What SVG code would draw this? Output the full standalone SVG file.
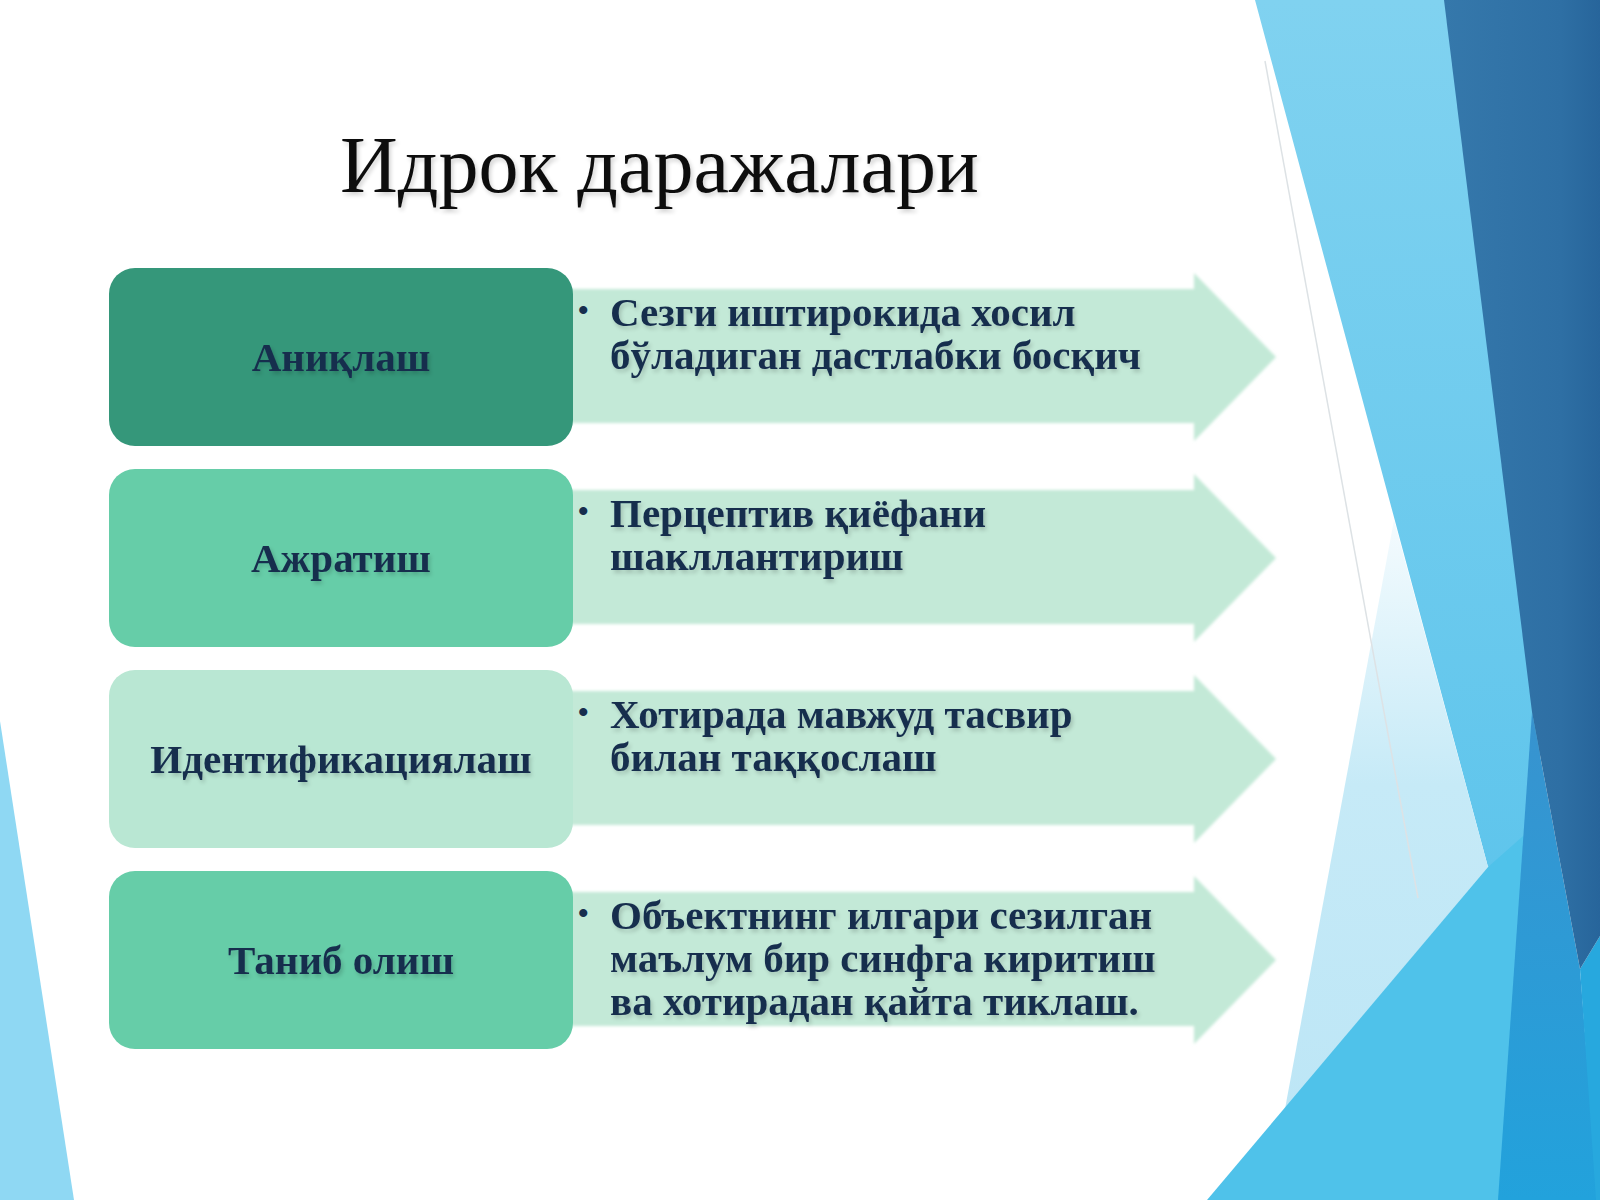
<svg xmlns="http://www.w3.org/2000/svg" width="1600" height="1200" viewBox="0 0 1600 1200">
<style>
.bg{stroke:none}
.box{stroke:none}
.dark{fill:#35977a}
.mid{fill:#66cda8}
.pale{fill:#b9e7d3}
.arrow{fill:#c3e9d7;filter:url(#soft)}
.label{font-family:"Liberation Serif","DejaVu Serif",serif;font-weight:bold;font-size:41px;fill:#172e4e;text-anchor:middle;filter:url(#tshadow)}
.desc{font-family:"Liberation Serif","DejaVu Serif",serif;font-weight:bold;font-size:41px;fill:#172e4e;filter:url(#tshadow)}
.bullet{font-family:"Liberation Serif","DejaVu Serif",serif;font-weight:bold;font-size:30px;fill:#172e4e}
.title{font-family:"Liberation Serif","DejaVu Serif",serif;font-size:80px;fill:#111111;filter:url(#tshadow)}
</style>
<defs>
<filter id="soft" x="-5%" y="-10%" width="110%" height="120%"><feGaussianBlur stdDeviation="1.5"/></filter>
<filter id="tshadow" x="-5%" y="-20%" width="110%" height="150%">
<feGaussianBlur in="SourceAlpha" stdDeviation="2"/>
<feOffset dx="2" dy="3" result="o"/>
<feComponentTransfer in="o" result="s"><feFuncA type="linear" slope="0.18"/></feComponentTransfer>
<feMerge><feMergeNode in="s"/><feMergeNode in="SourceGraphic"/></feMerge>
</filter>
<linearGradient id="gBand" x1="0" y1="0" x2="0" y2="1"><stop offset="0" stop-color="#80d2f0"/><stop offset="1" stop-color="#5fc5ec"/></linearGradient>
<linearGradient id="gPale" x1="0" y1="0" x2="0" y2="1"><stop offset="0" stop-color="#f4fbfe"/><stop offset="0.45" stop-color="#c6eaf7"/><stop offset="1" stop-color="#bde6f6"/></linearGradient>
<linearGradient id="gDark" x1="0" y1="0" x2="1" y2="0"><stop offset="0" stop-color="#3578ab"/><stop offset="0.75" stop-color="#2e6fa4"/><stop offset="1" stop-color="#27659b"/></linearGradient>
<linearGradient id="gMid" x1="0" y1="0" x2="0" y2="1"><stop offset="0" stop-color="#3893cf"/><stop offset="1" stop-color="#22a2dc"/></linearGradient>
</defs>

<g id="background">
<rect class="bg" x="0" y="0" width="1600" height="1200" fill="#ffffff"/>
<polygon class="bg" points="0,721 74,1200 0,1200" fill="#8fd8f3"/>
<polygon class="bg" points="1255,0 1600,0 1600,730 1540,715 1540,837 1488,867" fill="url(#gBand)"/>
<polygon class="bg" points="1394,520 1488,867 1285,1109" fill="url(#gPale)"/>
<polygon class="bg" points="1207,1200 1488,867 1530,830 1540,1200" fill="#4fc2ea"/>
<polygon class="bg" points="1532,712 1580,969 1598,1200 1498,1200" fill="url(#gMid)"/>
<polygon class="bg" points="1580,969 1600,936 1600,1200 1596,1200" fill="#27a8de"/>
<polygon class="bg" points="1444,0 1600,0 1600,936 1580,969 1532,712" fill="url(#gDark)"/>
<line x1="1265" y1="61" x2="1418" y2="898" stroke="#dde2e5" stroke-width="1.5"/>
</g>

<g id="title">
<text class="title" x="340" y="192">Идрок даражалари</text>
</g>

<g id="connectors"></g>

<g id="level-1">
<polygon class="arrow" points="560,289 1194,289 1194,273 1276,357 1194,441 1194,423 560,423"/>
<rect class="box dark" x="109" y="268" width="464" height="178" rx="26"/>
<text class="label" x="341" y="371">Аниқлаш</text>
<text class="bullet" x="578" y="320">•</text>
<text class="desc" x="610" y="326">Сезги иштирокида хосил</text>
<text class="desc" x="610" y="369">бўладиган дастлабки босқич</text>
</g>

<g id="level-2">
<polygon class="arrow" points="560,490 1194,490 1194,474 1276,558 1194,642 1194,624 560,624"/>
<rect class="box mid" x="109" y="469" width="464" height="178" rx="26"/>
<text class="label" x="341" y="572">Ажратиш</text>
<text class="bullet" x="578" y="521">•</text>
<text class="desc" x="610" y="527">Перцептив қиёфани</text>
<text class="desc" x="610" y="570">шакллантириш</text>
</g>

<g id="level-3">
<polygon class="arrow" points="560,691 1194,691 1194,675 1276,759 1194,843 1194,825 560,825"/>
<rect class="box pale" x="109" y="670" width="464" height="178" rx="26"/>
<text class="label" x="341" y="773">Идентификациялаш</text>
<text class="bullet" x="578" y="722">•</text>
<text class="desc" x="610" y="728">Хотирада мавжуд тасвир</text>
<text class="desc" x="610" y="771">билан таққослаш</text>
</g>

<g id="level-4">
<polygon class="arrow" points="560,892 1194,892 1194,876 1276,960 1194,1044 1194,1026 560,1026"/>
<rect class="box mid" x="109" y="871" width="464" height="178" rx="26"/>
<text class="label" x="341" y="974">Таниб олиш</text>
<text class="bullet" x="578" y="923">•</text>
<text class="desc" x="610" y="929">Объектнинг илгари сезилган</text>
<text class="desc" x="610" y="972">маълум бир синфга киритиш</text>
<text class="desc" x="610" y="1015">ва хотирадан қайта тиклаш.</text>
</g>
</svg>
